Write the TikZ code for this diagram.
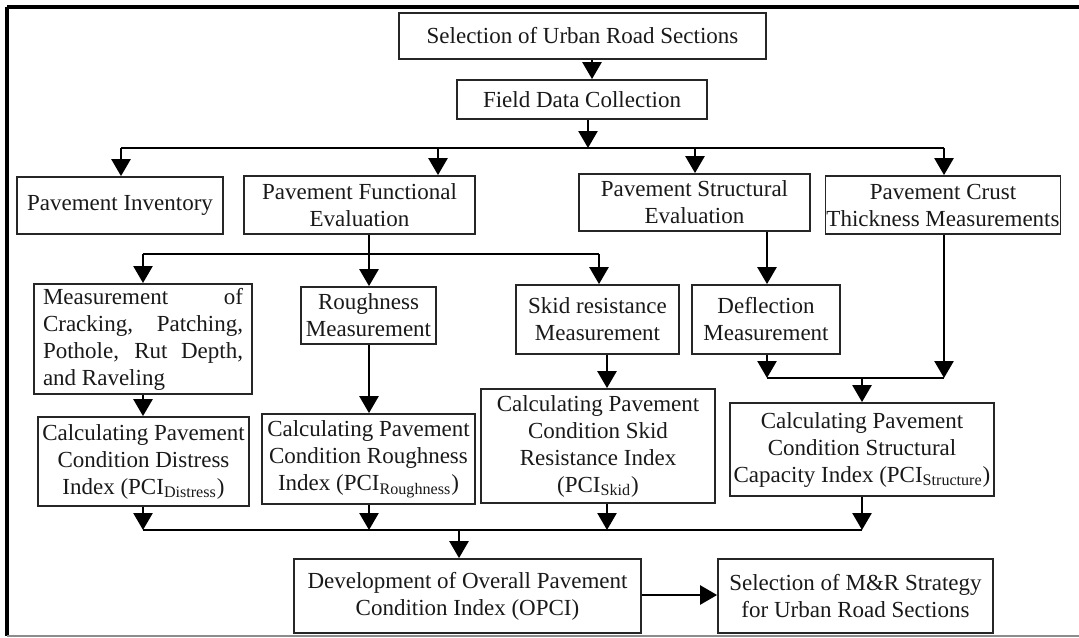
\documentclass[tikz,border=0pt]{standalone}
\usepackage{fontspec}
\setmainfont{Liberation Serif}
\usetikzlibrary{arrows.meta}
\begin{document}
\begin{tikzpicture}[x=0.5pt,y=-0.5pt,
  box/.style={draw=black!85, line width=0.9pt, align=center, inner sep=2pt,
    font=\fontsize{11.5}{13.5}\selectfont, text=black!90},
  arr/.style={line width=1.3pt, -{Triangle[width=9.5pt,length=8.5pt]}},
  ln/.style={line width=1.3pt}]
\useasboundingbox (0,0) rectangle (1079,637);
% frame
\draw[line width=1.6pt] (7,7) -- (1079,7);
\draw[line width=1.6pt] (7,7) -- (7,636);
\draw[line width=0.8pt, black!45] (7,636) -- (1079,636);
% boxes
\node[box, minimum width=183.5pt, minimum height=23pt] (sel) at (582.5,36) {Selection of Urban Road Sections};
\node[box, minimum width=125pt, minimum height=19.5pt] (field) at (582,99.5) {Field Data Collection};
\node[box, minimum width=103pt, minimum height=28.5pt] (inv) at (120,205.5) {Pavement Inventory};
\node[box, minimum width=115.5pt, minimum height=29pt] (func) at (359.5,205) {Pavement Functional\\Evaluation};
\node[box, minimum width=115.5pt, minimum height=28.5pt] (struc) at (694.5,202.5) {Pavement Structural\\Evaluation};
\node[box, minimum width=116pt, minimum height=29pt, inner sep=0.5pt] (crust) at (943,205) {Pavement Crust\\Thickness Measurements};
\node[box, minimum width=109pt, minimum height=54pt, text width=100pt, align=justify, inner xsep=4.5pt] (meas) at (143,339)
  {\hyphenpenalty=10000 Measurement of\linebreak Cracking, Patching,\linebreak Pothole, Rut Depth,\linebreak and Raveling};
\node[box, minimum width=67.5pt, minimum height=28.5pt] (rough) at (368.5,315.5) {Roughness\\Measurement};
\node[box, minimum width=81.5pt, minimum height=34.5pt] (skid) at (597.5,319.5) {Skid resistance\\Measurement};
\node[box, minimum width=74pt, minimum height=34.5pt] (defl) at (766,319.5) {Deflection\\Measurement};
\node[box, minimum width=105.5pt, minimum height=44.5pt] (cdis) at (143.5,461.5) {Calculating Pavement\\Condition Distress\\Index (PCI\textsubscript{Distress})};
\node[box, minimum width=106.5pt, minimum height=45pt] (crou) at (368.5,459) {Calculating Pavement\\Condition Roughness\\Index (PCI\textsubscript{Roughness})};
\node[box, minimum width=117pt, minimum height=57pt] (cskid) at (598,446) {Calculating Pavement\\Condition Skid\\Resistance Index\\(PCI\textsubscript{Skid})};
\node[box, minimum width=125pt, minimum height=46.5pt] (cstr) at (862,449.5) {Calculating Pavement\\Condition Structural\\Capacity Index (PCI\textsubscript{Structure})};
\node[box, minimum width=173.5pt, minimum height=37pt] (opci) at (467.5,596) {Development of Overall Pavement\\Condition Index (OPCI)};
\node[box, minimum width=137.5pt, minimum height=37pt] (mr) at (855.5,596) {Selection of M\&R Strategy\\for Urban Road Sections};
% junctions
\coordinate (b1m) at (588,148);
\coordinate (b1L) at (121,148);
\coordinate (b1a) at (438,148);
\coordinate (b1b) at (695,148);
\coordinate (b1R) at (944,148);
\coordinate (b2m) at (369,254);
\coordinate (b2L) at (143,254);
\coordinate (b2R) at (599,254);
\coordinate (b3L) at (767,378);
\coordinate (b3m) at (862,378);
\coordinate (b3R) at (944,378);
\coordinate (b4L) at (143,530);
\coordinate (b4a) at (369,530);
\coordinate (b4b) at (607,530);
\coordinate (b4R) at (862,530);
\coordinate (b4m) at (459,530);
% connectors
\draw[arr] (sel.south -| 592,0) -- (field.north -| 592,0);
\draw[arr] (field.south -| b1m) -- (b1m);
\draw[ln] (b1L) -- (b1R);
\draw[arr] (b1L) -- (inv.north -| b1L);
\draw[arr] (b1a) -- (func.north -| b1a);
\draw[arr] (b1b) -- (struc.north -| b1b);
\draw[arr] (b1R) -- (crust.north -| b1R);
\draw[arr] (func.south -| b2m) -- (rough.north -| b2m);
\draw[ln] (b2L) -- (b2R);
\draw[arr] (b2L) -- (meas.north -| b2L);
\draw[arr] (b2R) -- (skid.north -| b2R);
\draw[arr] (struc.south -| b3L) -- (defl.north -| b3L);
\draw[arr] (defl.south -| b3L) -- (b3L);
\draw[arr] (crust.south -| b3R) -- (b3R);
\draw[ln] (b3L) -- (b3R);
\draw[arr] (b3m) -- (cstr.north -| b3m);
\draw[arr] (meas.south -| b4L) -- (cdis.north -| b4L);
\draw[arr] (rough.south -| b4a) -- (crou.north -| b4a);
\draw[arr] (skid.south -| b4b) -- (cskid.north -| b4b);
\draw[arr] (cdis.south -| b4L) -- (b4L);
\draw[arr] (crou.south -| b4a) -- (b4a);
\draw[arr] (cskid.south -| b4b) -- (b4b);
\draw[arr] (cstr.south -| b4R) -- (b4R);
\draw[ln] (b4L) -- (b4R);
\draw[arr] (b4m) -- (opci.north -| b4m);
\draw[arr] (opci.east |- 0,595) -- (mr.west |- 0,595);
\end{tikzpicture}
\end{document}
